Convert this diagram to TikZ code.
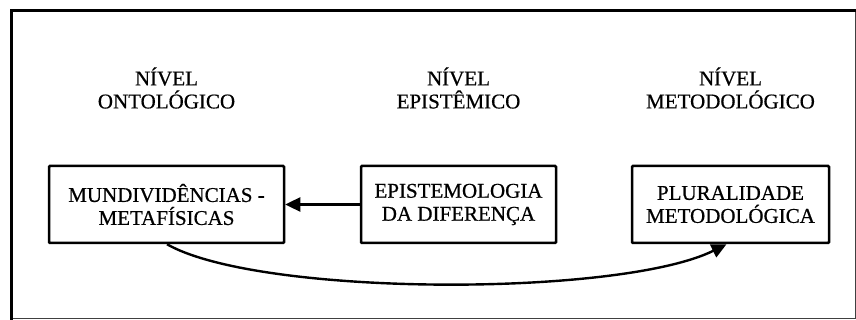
\documentclass[tikz,border=0pt]{standalone}
\usepackage{fontspec}
\newfontfamily\diagfont[FakeBold=0.6]{Liberation Serif}
\usetikzlibrary{arrows.meta}
\begin{document}
\begin{tikzpicture}[x=1pt,y=-1pt,
  txt/.style={font=\diagfont\fontsize{21}{23}\selectfont, align=center, inner sep=0pt},
  levelbox/.style={draw, line width=2.5pt, rounded corners=1pt, minimum height=77pt, inner sep=0pt},
  conn/.style={line width=2.4pt, -{Triangle[length=15pt,width=14pt]}}]
\useasboundingbox (0,0) rectangle (856,320);
\fill[white] (0,0) rectangle (856,320);
% frame
\draw[black!75, line width=1pt] (855.5,11) -- (855.5,318.5) -- (11,318.5);
\draw[line width=3pt] (856,11) -- (11,11) -- (11,320);
% level labels
\node[txt] (l1) at (166.5,88) {NÍVEL\\ONTOLÓGICO};
\node[txt] (l2) at (458.5,88) {NÍVEL\\EPISTÊMICO};
\node[txt] (l3) at (730.5,88) {NÍVEL\\METODOLÓGICO};
% boxes
\node[levelbox, minimum width=235pt] (b1) at (166.5,204.5) {};
\node[levelbox, minimum width=195pt] (b2) at (458.5,204.5) {};
\node[levelbox, minimum width=197pt] (b3) at (730.5,204.5) {};
\node[txt] (t1) at (b1.center) {MUNDIVIDÊNCIAS -\\METAFÍSICAS};
\node[txt] (t2) at (b2.center) {EPISTEMOLOGIA\\DA DIFERENÇA};
\node[txt] (t3) at (b3.center) {PLURALIDADE\\METODOLÓGICA};
% connectors
\draw[conn] (b2.west) -- (b1.east);
\draw[conn] ([xshift=0.5pt]b1.south) .. controls (260,297) and (620,297) .. ([xshift=-4pt]b3.south);
\end{tikzpicture}
\end{document}
